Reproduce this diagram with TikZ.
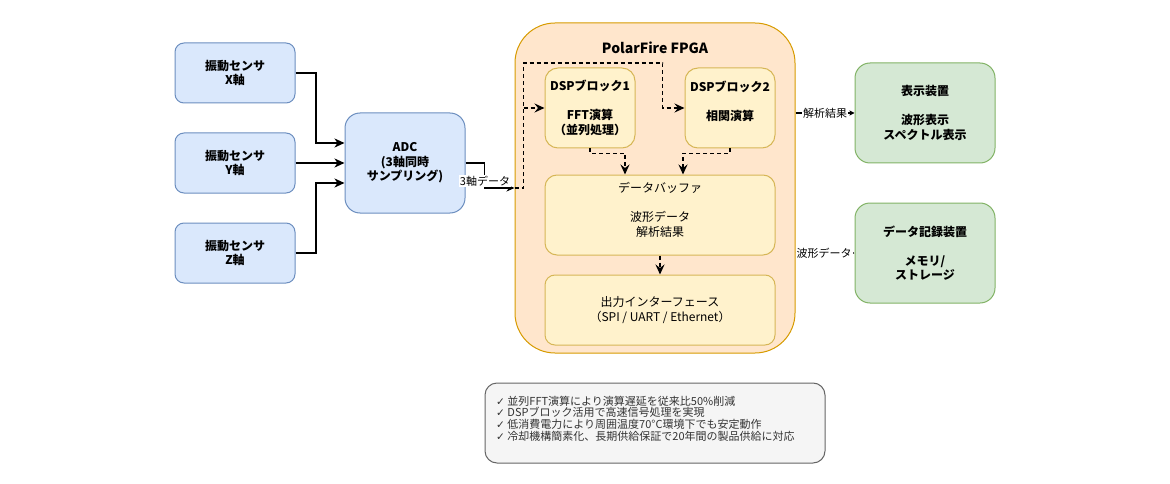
\documentclass[tikz,border=0pt]{standalone}
\usepackage{fontspec}
\setmainfont{Noto Sans CJK JP}
\newfontfamily\symfont{DejaVu Sans}
\usetikzlibrary{arrows.meta,calc}
\definecolor{blueF}{HTML}{DAE8FC}\definecolor{blueS}{HTML}{6C8EBF}
\definecolor{oraF}{HTML}{FFE6CC}\definecolor{oraS}{HTML}{D79B00}
\definecolor{yelF}{HTML}{FFF2CC}\definecolor{yelS}{HTML}{D6B656}
\definecolor{grnF}{HTML}{D5E8D4}\definecolor{grnS}{HTML}{82B366}
\definecolor{noteF}{HTML}{F5F5F5}\definecolor{noteS}{HTML}{666666}
\definecolor{noteT}{HTML}{333333}
\tikzset{
  box/.style={draw, line width=1pt, align=center, inner sep=0pt, text=black},
  bluebox/.style={box, fill=blueF, draw=blueS},
  yelbox/.style={box, fill=yelF, draw=yelS},
  grnbox/.style={box, fill=grnF, draw=grnS},
  bfont/.style={font=\bfseries\fontsize{12}{14.5}\selectfont},
  rfont/.style={font=\fontsize{12}{14.5}\selectfont},
  lbl/.style={fill=white, inner sep=1pt, font=\fontsize{11}{13}\selectfont},
  arr/.style={line width=2pt, -{Stealth[length=10pt,width=9pt,inset=3pt]}},
  thin/.style={line width=1.3pt, -{Stealth[length=8pt,width=7pt,inset=2.5pt]}},
  dsh/.style={line width=1.5pt, dash pattern=on 4pt off 3pt},
  dsharr/.style={dsh, -{Stealth[length=10pt,width=9pt,inset=3.5pt]}},
  small/.style={line width=1.5pt, -{Stealth[length=5pt,width=5pt,inset=1pt]}},
}
\begin{document}
\begin{tikzpicture}[x=1pt,y=-1pt]
\useasboundingbox (0,0) rectangle (1170,484);
% sensors
\node[bluebox, bfont, rounded corners=9pt, minimum width=120pt, minimum height=60pt] (sx) at (235,73) {振動センサ\\X軸};
\node[bluebox, bfont, rounded corners=9pt, minimum width=120pt, minimum height=60pt] (sy) at (235,163) {振動センサ\\Y軸};
\node[bluebox, bfont, rounded corners=9pt, minimum width=120pt, minimum height=60pt] (sz) at (235,253) {振動センサ\\Z軸};
\node[bluebox, bfont, rounded corners=15pt, minimum width=120pt, minimum height=100pt] (adc) at (405,163) {ADC\\(3軸同時\\サンプリング)};
% FPGA
\node[box, fill=oraF, draw=oraS, rounded corners=40pt, minimum width=280pt, minimum height=330pt] (fpga) at (655,188) {};
\node[font=\bfseries\fontsize{14}{16}\selectfont, inner sep=0pt] (fpgat) at (655,48) {PolarFire FPGA};
\node[yelbox, bfont, rounded corners=13pt, minimum width=90pt, minimum height=80pt] (dsp1) at (590,108) {DSPブロック1\\\mbox{}\\FFT演算\\（並列処理）};
\node[yelbox, bfont, rounded corners=13pt, minimum width=90pt, minimum height=80pt] (dsp2) at (730,108) {DSPブロック2\\\mbox{}\\相関演算\\\mbox{}};
\node[yelbox, rfont, rounded corners=12pt, minimum width=230pt, minimum height=80pt] (buf) at (660,215) {データバッファ\\\mbox{}\\波形データ\\解析結果\\[-3pt]\mbox{}};
\node[yelbox, rfont, rounded corners=10pt, minimum width=230pt, minimum height=70pt] (outif) at (660,310) {出力インターフェース\\（SPI / UART / Ethernet）};
% outputs
\node[grnbox, bfont, rounded corners=15pt, minimum width=140pt, minimum height=100pt] (disp) at (925,113) {表示装置\\\mbox{}\\波形表示\\スペクトル表示};
\node[grnbox, bfont, rounded corners=15pt, minimum width=140pt, minimum height=100pt] (rec) at (925,253) {データ記録装置\\\mbox{}\\メモリ/\\ストレージ};
% note
\node[box, fill=noteF, draw=noteS, rounded corners=12pt, minimum width=340pt, minimum height=80pt] (note) at (655,423) {};
\node[anchor=west, align=left, inner sep=0pt, text=noteT, font=\fontsize{11}{11.7}\selectfont] (notet) at (496,418.5)
 {{\symfont\fontsize{10.5}{11.7}\selectfont ✓} 並列FFT演算により演算遅延を従来比50\%削減\\
  {\symfont\fontsize{10.5}{11.7}\selectfont ✓} DSPブロック活用で高速信号処理を実現\\
  {\symfont\fontsize{10.5}{11.7}\selectfont ✓} 低消費電力により周囲温度70°C環境下でも安定動作\\
  {\symfont\fontsize{10.5}{11.7}\selectfont ✓} 冷却機構簡素化、長期供給保証で20年間の製品供給に対応};
% sensor edges
\draw[arr] (sx.east) -- ++(20,0) |- ($(adc.west)+(0,-20)$);
\draw[arr] (sy.east) -- (adc.west);
\draw[arr] (sz.east) -- ++(20,0) |- ($(adc.west)+(0,20)$);
% ADC to FPGA
\draw[thin] (adc.east) -- ++(19,0) |- (fpga.west);
\node[lbl] (l3) at (485,181) {3軸データ};
% dashed internal
\coordinate (dj) at ($(fpga.west)+(9,-80)$);
\draw[dsharr] (fpga.west) -- ++(9,0) |- ($(dsp2.west)+(-22,-45)$) -- ($(dsp2.west)+(-22,0)$) -- (dsp2.west);
\draw[dsharr] (dj) -- (dsp1.west);
\draw[dsharr] (dsp1.south) -- ++(0,5) -| ($(buf.north)+(-35,0)$);
\draw[dsharr] (dsp2.south) -- ++(0,5) -| ($(buf.north)+(23,0)$);
\draw[dsharr] (buf.south) -- (outif.north);
% outputs
\draw[small] ($(fpga.east)+(0,-75)$) -- (disp.west);
\node[lbl] (l4) at (825,113) {解析結果};
\draw[small] ($(fpga.east)+(0,65)$) -- (rec.west);
\node[lbl] (l5) at (824,253) {波形データ};
\end{tikzpicture}
\end{document}
